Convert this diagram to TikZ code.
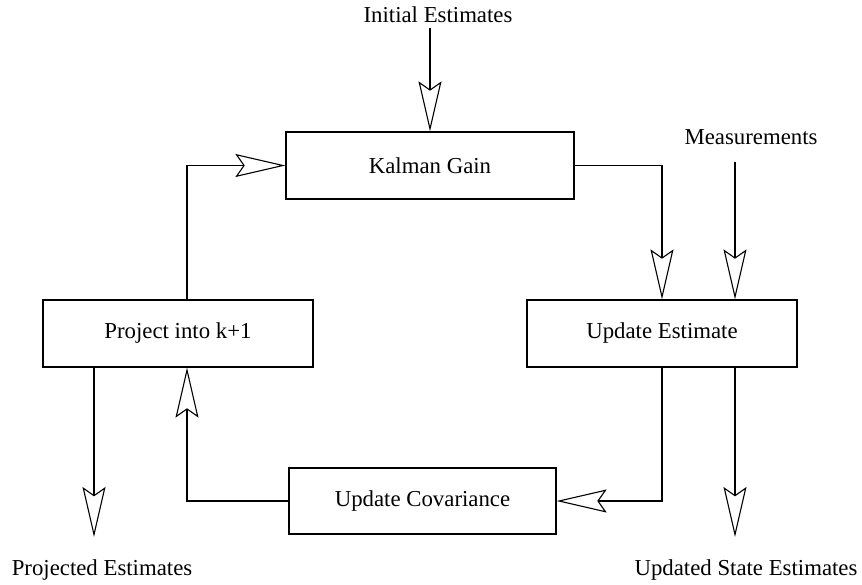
\documentclass[tikz,border=0pt]{standalone}
\usepackage{fontspec}
\setmainfont{Liberation Serif}
\usetikzlibrary{arrows.meta}
\begin{document}
\begin{tikzpicture}[x=1pt,y=-1pt,
  txt/.style={font=\fontsize{22.8}{26}\selectfont},
  block/.style={draw, line width=1.2pt, minimum width=#1, minimum height=67pt,
    inner sep=0pt, txt},
  lbl/.style={inner sep=0pt, txt},
  flow/.style={line width=1.1pt,
    -{Stealth[open, length=50pt, width=23pt, inset=8pt, line width=1.1pt]}}]
\useasboundingbox (0,0) rectangle (862,584);

% process blocks
\node[block=288pt] (kg) at (430,165.5) {Kalman Gain};
\node[block=270pt] (ue) at (662,333.5) {Update Estimate};
\node[block=270pt] (pj) at (178,333.5) {Project into k+1};
\node[block=267pt, minimum height=66pt] (uc) at (422.5,501) {Update Covariance};

% inputs and outputs
\node[lbl] (ie) at (438,15) {Initial Estimates};
\node[lbl] (ms) at (751,137) {Measurements};
\node[lbl] (pe) at (102,570) {Projected Estimates};
\node[lbl] (us) at (746,570) {Updated State Estimates};

\coordinate (iestart) at (430,28);
\coordinate (msstart) at (735,162);
\coordinate (petip) at (94,537);
\coordinate (ustip) at (735,537);

% loop
\draw[flow] (iestart) -- (iestart |- kg.north);
\draw[flow] (kg.east) -| (ue.north);
\draw[flow] (msstart) -- (msstart |- ue.north);
\draw[flow] (ue.south) |- (uc.east);
\draw[flow] (uc.west) -| ([xshift=9pt]pj.south);
\draw[flow] ([xshift=9pt]pj.north) |- (kg.west);

% outputs
\draw[flow] (petip |- pj.south) -- (petip);
\draw[flow] (ustip |- ue.south) -- (ustip);
\end{tikzpicture}
\end{document}
